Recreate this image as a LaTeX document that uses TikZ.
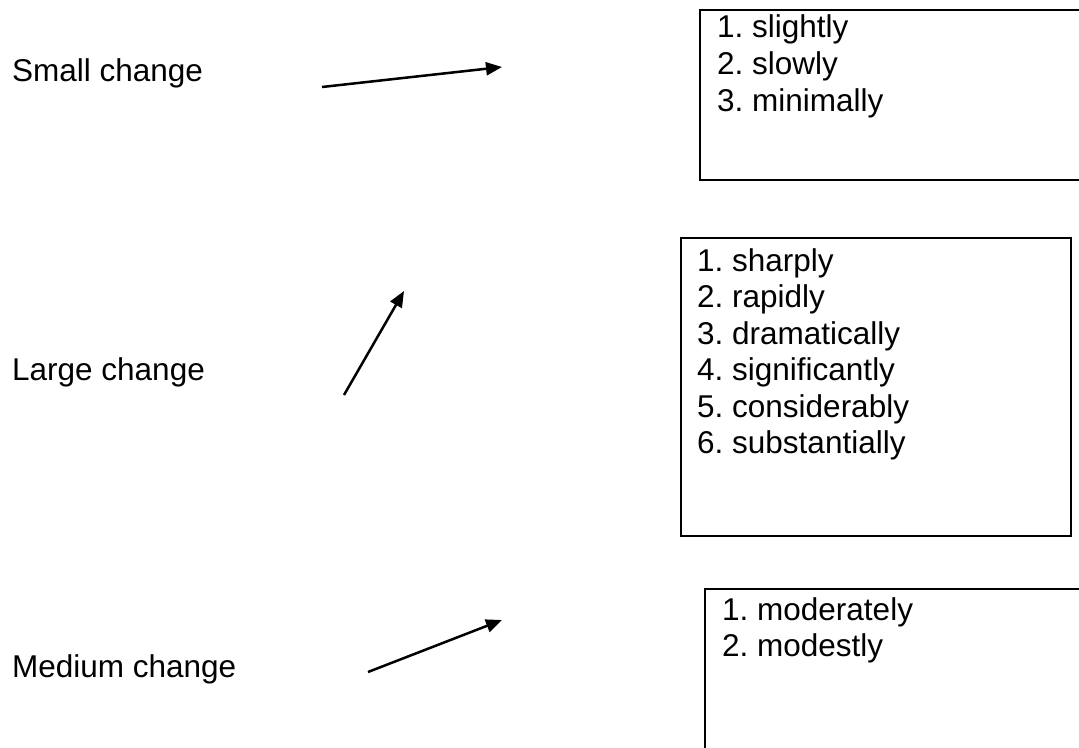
\documentclass[tikz,border=0pt]{standalone}
\usepackage{fontspec}
\setmainfont{Liberation Sans}
\frenchspacing
\usetikzlibrary{arrows.meta}

\tikzset{
  label/.style={anchor=base west, inner sep=0pt, font=\fontsize{31.5}{37}\selectfont},
  item/.style={anchor=base west, inner sep=0pt, font=\fontsize{31.5}{37}\selectfont},
  box/.style={line width=2.5pt},
  pointer/.style={line width=2.5pt, -{Triangle[length=16pt,width=13pt]}}
}

\begin{document}
\begin{tikzpicture}[x=1pt, y=-1pt]
  \clip (0,0) rectangle (1079,747);
  \fill[white] (0,0) rectangle (1079,747);

  % Small change
  \node[label] (small) at (12,81) {Small change};
  \coordinate (s1) at (322,87);
  \coordinate (s2) at (502,67);
  \draw[pointer] (s1) -- (s2);
  \draw[box] (700,10) rectangle (1100,180);
  \foreach \word [count=\i] in {slightly,slowly,minimally}
    \node[item] (small-\i) at (717,{37+37*(\i-1)}) {\i. \word};

  % Large change
  \node[label] (large) at (12,380) {Large change};
  \coordinate (l1) at (344,395);
  \coordinate (l2) at (404,291);
  \draw[pointer] (l1) -- (l2);
  \draw[box] (681,238) rectangle (1071,536);
  \foreach \word [count=\i] in {sharply,rapidly,dramatically,significantly,considerably,substantially}
    \node[item] (large-\i) at (697,{271+36.5*(\i-1)}) {\i. \word};

  % Medium change
  \node[label] (medium) at (12,677) {Medium change};
  \coordinate (m1) at (368,672);
  \coordinate (m2) at (502,620);
  \draw[pointer] (m1) -- (m2);
  \draw[box] (705,589) rectangle (1100,770);
  \foreach \word [count=\i] in {moderately,modestly}
    \node[item] (medium-\i) at (722,{620+36*(\i-1)}) {\i. \word};
\end{tikzpicture}
\end{document}
